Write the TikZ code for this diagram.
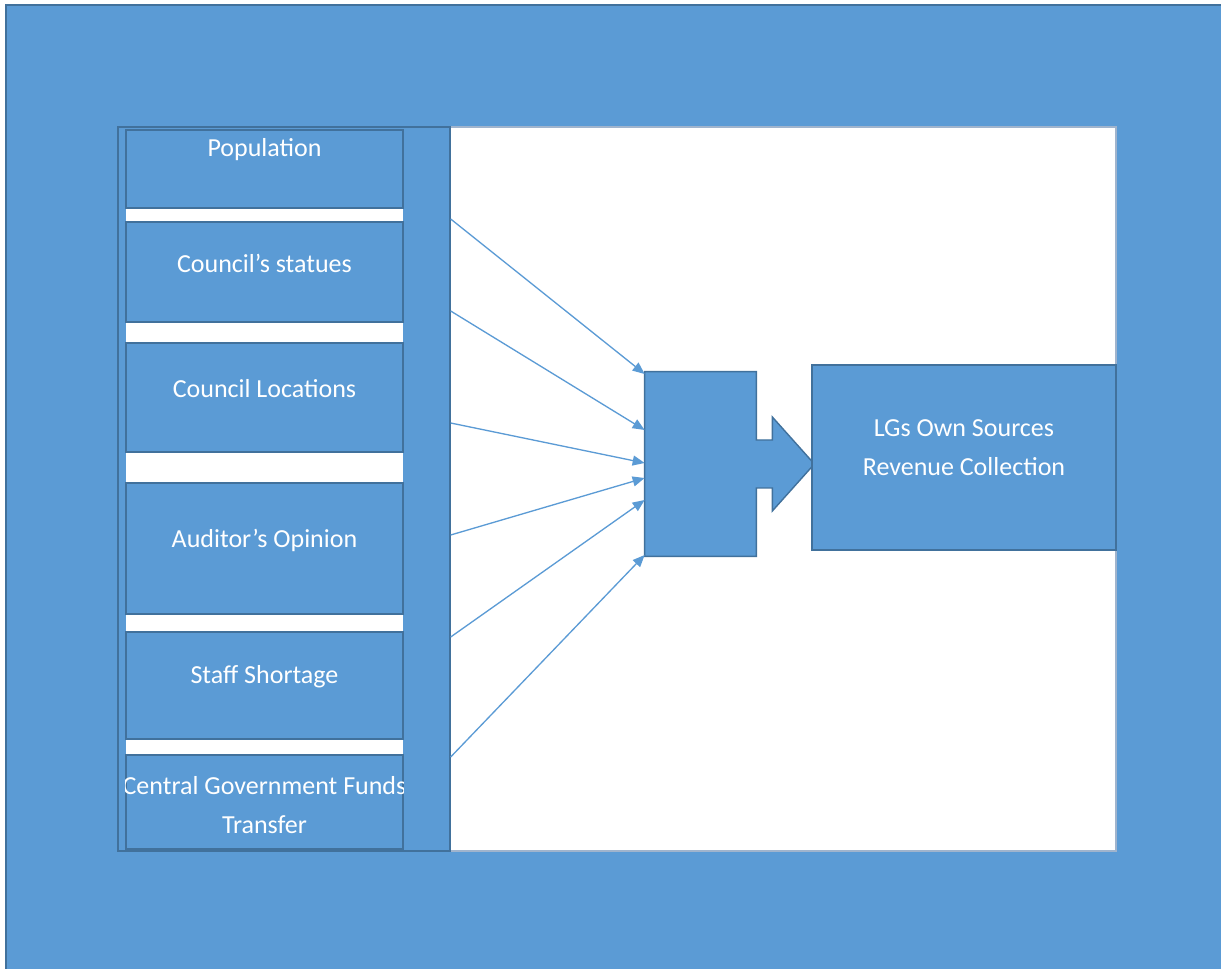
\documentclass[tikz,border=0pt]{standalone}
\usepackage{fontspec}
\setmainfont{Carlito}
\usepackage{tikz}
\usetikzlibrary{arrows.meta, calc}
\definecolor{boxcolor}{RGB}{91, 155, 213}
\definecolor{edgecolor}{RGB}{65, 113, 156}
\definecolor{panelcolor}{RGB}{160, 180, 205}

\begin{document}
\begin{tikzpicture}[
    x=0.02cm, y=-0.02cm,
    factor/.style={draw=edgecolor, fill=boxcolor, line width=0.8pt, minimum width=5.54cm, inner sep=0pt},
    boxtext/.style={text=white, font=\fontsize{14.8}{22.4}\selectfont, align=center, inner sep=0pt},
    blockbox/.style={draw=edgecolor, fill=boxcolor, line width=0.8pt, line join=miter},
    arrow/.style={-{Triangle[length=0.24cm, width=0.2cm]}, draw=boxcolor, line width=0.75pt}
]
\useasboundingbox (0,0) rectangle (1221,969);

% Background and panel
\fill[white] (0,0) rectangle (1221,969);
\draw[edgecolor, fill=boxcolor, line width=0.8pt] (6,5) rectangle (1230,980);
\node[draw=panelcolor, fill=white, line width=0.8pt, minimum width=19.96cm, minimum height=14.48cm, inner sep=0pt] (panel) at (617,489) {};

% Left column of factors
\node[draw=edgecolor, fill=boxcolor, line width=0.8pt, minimum width=6.64cm, minimum height=14.48cm, inner sep=0pt] (col) at (284,489) {};
\fill[white] (126,130) rectangle (403,849);

\node[factor, minimum height=1.56cm] (pop) at (264.5,169) {};
\node[boxtext, below=0.18cm] (pop-t) at (pop.north) {Population};

\node[factor, minimum height=2cm] (statues) at (264.5,272) {};
\node[boxtext, yshift=0.17cm] (statues-t) at (statues) {Council’s statues};

\node[factor, minimum height=2.18cm] (loc) at (264.5,397.5) {};
\node[boxtext, yshift=0.17cm] (loc-t) at (loc) {Council Locations};

\node[factor, minimum height=2.62cm] (aud) at (264.5,548.5) {};
\node[boxtext, yshift=0.17cm] (aud-t) at (aud) {Auditor’s Opinion};

\node[factor, minimum height=2.14cm] (staff) at (264.5,685.5) {};
\node[boxtext, yshift=0.17cm] (staff-t) at (staff) {Staff Shortage};

\node[factor, minimum height=1.88cm] (cgf) at (264.5,802) {};
\begin{scope}
    \clip (cgf.north west) rectangle (cgf.south east);
    \node[boxtext, yshift=-0.06cm] (cgf-t) at (cgf) {Central Government Funds\\Transfer};
\end{scope}

% Middle box with block arrow
\node[minimum width=2.22cm, minimum height=3.68cm, inner sep=0pt] (mid) at (700.5,464) {};
\draw[blockbox] (mid.north west) -- (mid.north east) -- ($(mid.east)+(0,-24)$) -- ++(16,0) -- ++(0,-23)
    -- ($(mid.east)+(58,0)$) -- ($(mid.east)+(16,47)$) -- ++(0,-23) -- ($(mid.east)+(0,24)$)
    -- (mid.south east) -- (mid.south west) -- cycle;

% Outcome
\node[draw=edgecolor, fill=boxcolor, line width=0.8pt, minimum width=6.08cm, minimum height=3.7cm, inner sep=0pt] (lgs) at (964,457.5) {};
\node[boxtext, yshift=0.2cm] (lgs-t) at (lgs) {LGs Own Sources\\Revenue Collection};

% Arrows into the middle box
\draw[arrow] (col.east |- 0,219) -- (mid.west |- 0,374);
\draw[arrow] (col.east |- 0,311) -- (mid.west |- 0,430);
\draw[arrow] (col.east |- 0,423) -- (mid.west |- 0,463);
\draw[arrow] (col.east |- 0,535) -- (mid.west |- 0,478);
\draw[arrow] (col.east |- 0,637) -- (mid.west |- 0,500);
\draw[arrow] (col.east |- 0,757) -- (mid.west |- 0,555);

\end{tikzpicture}
\end{document}
